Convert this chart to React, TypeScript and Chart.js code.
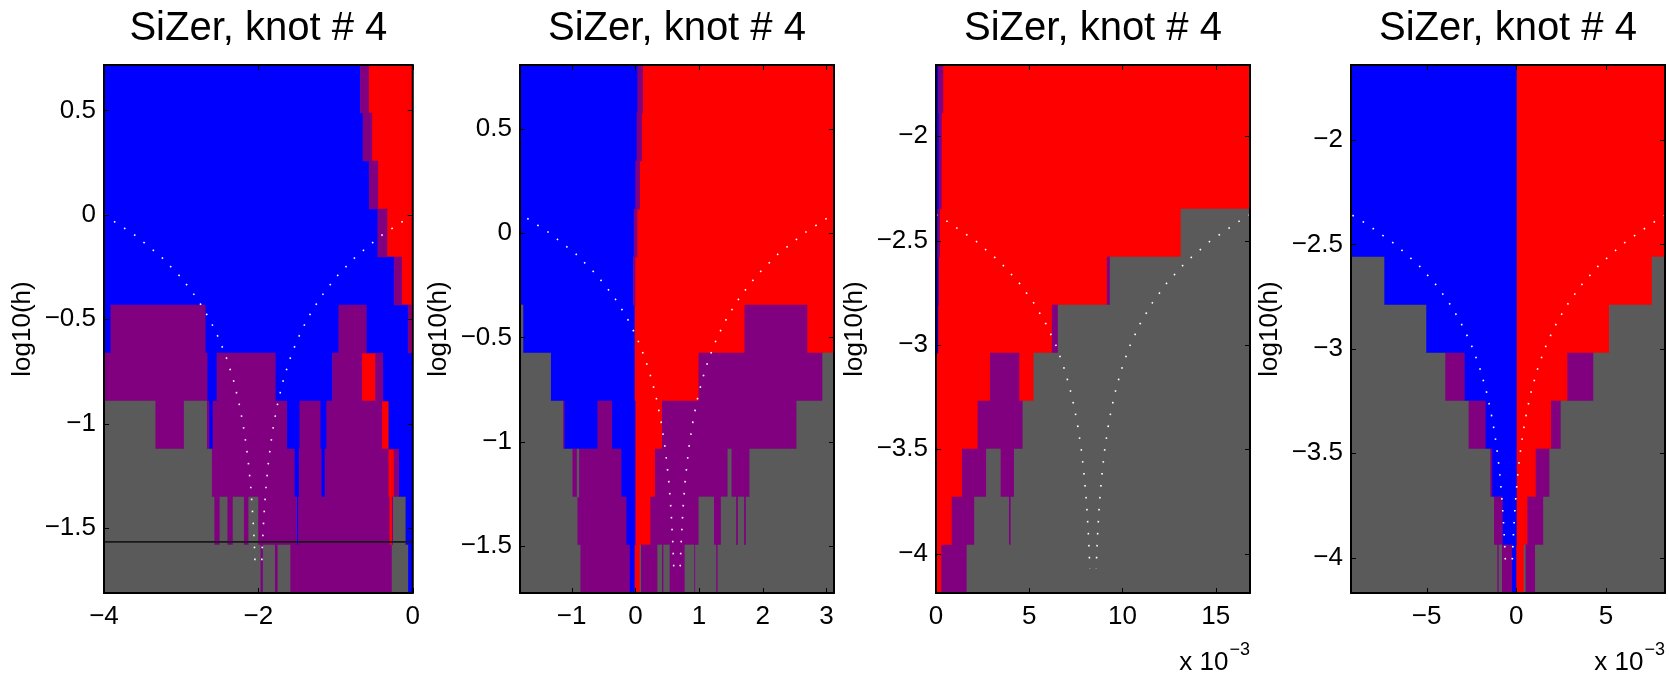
import React, { useEffect, useRef } from "react";
import { Chart, registerables } from "chart.js";

Chart.register(...registerables);

const FONT = "'Liberation Sans', Arial, Helvetica, sans-serif";
const COLORS: Record<string, string> = { B: "#0000ff", R: "#ff0000", P: "#800080", G: "#5a5a5a" };

// ---------- shared text ----------
const panelTitle = "SiZer, knot # 4";
const yAxisTitle = "log10(h)";

// ---------- panel 1 ----------
const p1XRange = [-4, 0];
const p1YRange = [-1.812, 0.718];
const p1LogH = [-1.697, -1.467, -1.237, -1.007, -0.777, -0.547, -0.317, -0.087, 0.143, 0.373, 0.603];
// each row (bottom → top): [colour, end of run]
const p1Rows: [string, number][][] = [
  [["G", -1.976], ["P", -1.938], ["G", -1.79], ["P", -1.747], ["G", -1.59], ["P", -0.268], ["G", -0.064], ["B", 0]],
  [["G", -2.574], ["P", -2.498], ["G", -2.405], ["P", -2.328], ["G", -2.193], ["P", -2.125], ["G", -2.006], ["P", -1.505], ["B", -1.48], ["P", -0.306], ["R", -0.265], ["P", -0.25], ["G", -0.097], ["B", 0]],
  [["G", -2.608], ["P", -1.535], ["B", -1.471], ["P", -1.187], ["B", -1.136], ["P", -0.318], ["R", -0.242], ["P", -0.182], ["B", 0]],
  [["G", -3.338], ["P", -2.961], ["G", -2.672], ["P", -2.64], ["B", -2.587], ["P", -1.633], ["B", -1.463], ["P", -1.2], ["B", -1.115], ["P", -0.402], ["R", -0.309], ["B", 0]],
  [["P", -2.664], ["B", -2.536], ["P", -1.781], ["B", -1.039], ["P", -0.661], ["R", -0.483], ["P", -0.389], ["B", 0]],
  [["B", -3.911], ["P", -2.689], ["B", -0.958], ["P", -0.602], ["B", -0.059], ["P", -0.02], ["R", 0]],
  [["B", -0.241], ["P", -0.143], ["R", 0]],
  [["B", -0.453], ["P", -0.334], ["R", 0]],
  [["B", -0.563], ["P", -0.453], ["R", 0]],
  [["B", -0.644], ["P", -0.53], ["R", 0]],
  [["B", -0.678], ["P", -0.572], ["R", 0]],
];
const p1CurveCenter = -2.0;
const p1CurveLogH = [0, -0.1, -0.2, -0.3, -0.4, -0.5, -0.6, -0.7, -0.8, -0.9, -1.0, -1.1, -1.2, -1.3, -1.4, -1.5, -1.6, -1.697];
const p1CurveHalf = [2, 1.589, 1.262, 1.002, 0.796, 0.632, 0.502, 0.399, 0.317, 0.252, 0.2, 0.159, 0.126, 0.1, 0.08, 0.063, 0.05, 0.04];
const p1HLine = [-1.567];

// ---------- panel 2 ----------
const p2XRange = [-1.811, 3.118];
const p2YRange = [-1.725, 0.805];
const p2LogH = [-1.61, -1.38, -1.15, -0.92, -0.69, -0.46, -0.23, 0, 0.23, 0.46, 0.69];
const p2Rows: [string, number][][] = [
  [["G", -0.867], ["P", -0.094], ["B", -0.016], ["R", 0.073], ["G", 0.083], ["P", 0.35], ["G", 0.413], ["P", 0.444], ["G", 0.533], ["P", 0.778], ["G", 0.919], ["P", 0.945], ["G", 1.264], ["P", 1.295], ["G", 3.118]],
  [["G", -0.914], ["P", -0.146], ["B", -0.005], ["R", 0.24], ["P", 0.997], ["G", 1.227], ["P", 1.347], ["G", 1.577], ["P", 1.614], ["G", 1.702], ["P", 1.739], ["G", 3.118]],
  [["G", -0.992], ["P", -0.914], ["G", -0.888], ["P", -0.225], ["B", -0.005], ["R", 0.313], ["P", 1.452], ["G", 1.504], ["P", 1.796], ["G", 3.118]],
  [["G", -1.138], ["P", -1.117], ["B", -0.59], ["P", -0.371], ["B", -0.005], ["R", 0.423], ["P", 2.533], ["G", 3.118]],
  [["G", -1.332], ["B", -0.016], ["R", 0.997], ["P", 2.94], ["G", 3.118]],
  [["G", -1.765], ["B", -0.016], ["R", 1.718], ["P", 2.694], ["R", 3.118]],
  [["B", -0.03], ["P", -0.005], ["R", 3.118]],
  [["B", -0.02], ["P", 0.026], ["R", 3.118]],
  [["B", 0.005], ["P", 0.068], ["R", 3.118]],
  [["B", 0.026], ["P", 0.1], ["R", 3.118]],
  [["B", 0.037], ["P", 0.115], ["R", 3.118]],
];
const p2CurveCenter = 0.653;
const p2CurveLogH = [0.07, 0, -0.1, -0.2, -0.3, -0.4, -0.5, -0.6, -0.7, -0.8, -0.9, -1.0, -1.1, -1.2, -1.3, -1.4, -1.5, -1.61];
const p2CurveHalf = [2.35, 2, 1.589, 1.262, 1.002, 0.796, 0.632, 0.502, 0.399, 0.317, 0.252, 0.2, 0.159, 0.126, 0.1, 0.08, 0.063, 0.049];

// ---------- panel 3 (x in units of 1e-3) ----------
const p3XRange = [0, 16.84];
const p3YRange = [-4.189, -1.659];
const p3LogH = [-4.074, -3.844, -3.614, -3.384, -3.154, -2.924, -2.694, -2.464, -2.234, -2.004, -1.774];
const p3Rows: [string, number][][] = [
  [["R", 0.3], ["P", 1.66], ["G", 16.84]],
  [["R", 0.86], ["P", 2.07], ["G", 3.89], ["P", 4.02], ["G", 16.84]],
  [["R", 1.41], ["P", 2.71], ["G", 3.45], ["P", 4.2], ["G", 16.84]],
  [["R", 2.25], ["P", 4.66], ["G", 16.84]],
  [["R", 2.91], ["P", 4.45], ["R", 5.25], ["G", 16.84]],
  [["B", 0.1], ["R", 6.23], ["P", 6.55], ["G", 16.84]],
  [["B", 0.12], ["R", 9.18], ["P", 9.34], ["G", 16.84]],
  [["B", 0.1], ["P", 0.2], ["R", 13.14], ["G", 16.84]],
  [["B", 0.16], ["P", 0.29], ["R", 16.84]],
  [["B", 0.16], ["P", 0.3], ["R", 16.84]],
  [["B", 0.14], ["P", 0.375], ["R", 16.84]],
];
const p3CurveCenter = 8.42;
const p3CurveLogH = [-2.376, -2.4, -2.5, -2.6, -2.7, -2.8, -2.9, -3.0, -3.1, -3.2, -3.3, -3.4, -3.5, -3.6, -3.7, -3.8, -3.9, -4.0, -4.074];
const p3CurveHalf = [8.42, 7.96, 6.32, 5.02, 3.99, 3.17, 2.52, 2.0, 1.589, 1.262, 1.002, 0.796, 0.632, 0.502, 0.399, 0.317, 0.252, 0.2, 0.169];

// ---------- panel 4 (x in units of 1e-3) ----------
const p4XRange = [-9.22, 8.29];
const p4YRange = [-4.17, -1.64];
const p4LogH = [-4.055, -3.825, -3.595, -3.365, -3.135, -2.905, -2.675, -2.445, -2.215, -1.985, -1.755];
const p4Rows: [string, number][][] = [
  [["G", -1.078], ["P", -0.967], ["G", -0.818], ["P", -0.26], ["B", -0.02], ["R", 0.43], ["G", 0.5], ["P", 1.06], ["G", 8.29]],
  [["G", -1.26], ["P", -0.78], ["B", 0], ["R", 0.63], ["P", 1.52], ["G", 8.29]],
  [["G", -1.47], ["P", -1.36], ["B", 0], ["R", 1.1], ["P", 1.86], ["G", 8.29]],
  [["G", -2.68], ["P", -1.73], ["B", 0], ["R", 1.95], ["P", 2.49], ["G", 8.29]],
  [["G", -3.98], ["P", -2.9], ["B", 0], ["R", 2.86], ["P", 4.31], ["G", 8.29]],
  [["G", -5.04], ["B", 0], ["R", 5.19], ["G", 8.29]],
  [["G", -7.38], ["B", 0], ["R", 7.57], ["G", 8.29]],
  [["B", 0], ["R", 8.29]],
  [["B", 0], ["R", 8.29]],
  [["B", 0], ["R", 8.29]],
  [["B", 0], ["R", 8.29]],
];
const p4CurveCenter = -0.42;
const p4CurveLogH = [-2.36, -2.4, -2.5, -2.6, -2.7, -2.8, -2.9, -3.0, -3.1, -3.2, -3.3, -3.4, -3.5, -3.6, -3.7, -3.8, -3.9, -4.0, -4.055];
const p4CurveHalf = [8.72, 7.96, 6.32, 5.02, 3.99, 3.17, 2.52, 2.0, 1.589, 1.262, 1.002, 0.796, 0.632, 0.502, 0.399, 0.317, 0.252, 0.2, 0.176];

const xStep = [2, 1, 5, 5];
const exponentLabel = [null, null, "\u22123", "\u22123"];

interface PanelSpec {
  xRange: number[];
  yRange: number[];
  logH: number[];
  rows: [string, number][][];
  center: number;
  curveLogH: number[];
  curveHalf: number[];
  hLines: number[];
  step: number;
  exponent: string | null;
}

const PANELS: PanelSpec[] = [
  { xRange: p1XRange, yRange: p1YRange, logH: p1LogH, rows: p1Rows, center: p1CurveCenter, curveLogH: p1CurveLogH, curveHalf: p1CurveHalf, hLines: p1HLine, step: xStep[0], exponent: exponentLabel[0] },
  { xRange: p2XRange, yRange: p2YRange, logH: p2LogH, rows: p2Rows, center: p2CurveCenter, curveLogH: p2CurveLogH, curveHalf: p2CurveHalf, hLines: [], step: xStep[1], exponent: exponentLabel[1] },
  { xRange: p3XRange, yRange: p3YRange, logH: p3LogH, rows: p3Rows, center: p3CurveCenter, curveLogH: p3CurveLogH, curveHalf: p3CurveHalf, hLines: [], step: xStep[2], exponent: exponentLabel[2] },
  { xRange: p4XRange, yRange: p4YRange, logH: p4LogH, rows: p4Rows, center: p4CurveCenter, curveLogH: p4CurveLogH, curveHalf: p4CurveHalf, hLines: [], step: xStep[3], exponent: exponentLabel[3] },
];

// layout (pixels)
const CANVAS_LEFT = [0, 416, 832, 1247];
const AXIS_W = 104;
const PLOT_W = 314;
const PAD_R = [10, 10, 10, 4];
const H = 678;

const fmt = (v: number) => {
  const s = String(Math.round(v * 1000) / 1000);
  return s.replace("-", "\u2212");
};

const framePlugin = {
  id: "matlabFrame",
  afterDraw(chart: any, _args: any, opts: any) {
    const { ctx, chartArea: a, scales } = chart;
    ctx.save();
    ctx.strokeStyle = "#000";
    ctx.lineWidth = 1;
    const tl = 5;
    ctx.beginPath();
    scales.x.ticks.forEach((t: any) => {
      const px = Math.round(scales.x.getPixelForValue(t.value)) + 0.5;
      ctx.moveTo(px, a.bottom);
      ctx.lineTo(px, a.bottom - tl);
      ctx.moveTo(px, a.top);
      ctx.lineTo(px, a.top + tl);
    });
    scales.y.ticks.forEach((t: any) => {
      const py = Math.round(scales.y.getPixelForValue(t.value)) + 0.5;
      ctx.moveTo(a.left, py);
      ctx.lineTo(a.left + tl, py);
      ctx.moveTo(a.right, py);
      ctx.lineTo(a.right - tl, py);
    });
    ctx.stroke();
    ctx.lineWidth = 2;
    ctx.strokeRect(a.left, a.top, a.right - a.left, a.bottom - a.top);
    if (opts && opts.exponent) {
      ctx.fillStyle = "#000";
      ctx.textAlign = "right";
      ctx.textBaseline = "alphabetic";
      ctx.font = `18px ${FONT}`;
      const w = ctx.measureText(opts.exponent).width;
      ctx.fillText(opts.exponent, a.right, a.bottom + 62);
      ctx.font = `26px ${FONT}`;
      ctx.fillText("x 10", a.right - w - 1, a.bottom + 77);
    }
    ctx.restore();
  },
};

function buildDatasets(p: PanelSpec) {
  const byColor: Record<string, any[]> = { G: [], P: [], B: [], R: [] };
  p.rows.forEach((row, i) => {
    let start = p.xRange[0];
    row.forEach(([c, end]) => {
      byColor[c].push({ x: [start, end], y: p.logH[i] });
      start = end;
    });
  });
  const bars = Object.keys(byColor).map((c) => ({
    type: "bar",
    data: byColor[c],
    backgroundColor: COLORS[c],
    borderWidth: 0,
    grouped: false,
    categoryPercentage: 1,
    barPercentage: 1,
    order: 2,
  }));
  const left = p.curveLogH.map((y, i) => ({ x: p.center - p.curveHalf[i], y }));
  const right = p.curveLogH.map((y, i) => ({ x: p.center + p.curveHalf[i], y }));
  const curve = (data: any[]) => ({
    type: "line",
    data,
    borderColor: "#ffffff",
    borderWidth: 1.6,
    borderDash: [1.6, 10.4],
    borderCapStyle: "butt",
    pointRadius: 0,
    fill: false,
    tension: 0,
    order: 0,
  });
  const lines = p.hLines.map((y) => ({
    type: "line",
    data: [
      { x: p.xRange[0], y },
      { x: p.xRange[1], y },
    ],
    borderColor: "#1a1a1a",
    borderWidth: 1.6,
    pointRadius: 0,
    fill: false,
    order: 0,
  }));
  return [...bars, curve(left), curve(right), ...lines];
}

function Panel({ idx }: { idx: number }) {
  const ref = useRef<HTMLCanvasElement | null>(null);
  const p = PANELS[idx];
  const width = AXIS_W + PLOT_W + PAD_R[idx];
  useEffect(() => {
    if (!ref.current) return;
    const chart = new Chart(ref.current, {
      type: "bar",
      data: { datasets: buildDatasets(p) as any },
      options: {
        indexAxis: "y",
        animation: false,
        responsive: false,
        maintainAspectRatio: false,
        events: [],
        layout: { padding: { left: 0, right: PAD_R[idx], top: 0, bottom: 0 } },
        plugins: {
          legend: { display: false },
          tooltip: { enabled: false },
          title: {
            display: true,
            text: panelTitle,
            fullSize: false,
            color: "#000",
            font: { family: FONT, size: 40, weight: "normal", lineHeight: 1.2 },
            padding: { top: 5, bottom: 12 },
          },
          matlabFrame: { exponent: p.exponent },
        } as any,
        scales: {
          x: {
            type: "linear",
            min: p.xRange[0],
            max: p.xRange[1],
            offset: false,
            grid: { display: false, drawTicks: false },
            border: { display: false },
            ticks: {
              stepSize: p.step,
              includeBounds: false,
              autoSkip: false,
              maxRotation: 0,
              color: "#000",
              padding: 8,
              font: { family: FONT, size: 26 },
              callback: (v: any) => fmt(Number(v)),
            },
            afterFit: (s: any) => {
              s.height = 85;
            },
          },
          y: {
            type: "linear",
            min: p.yRange[0],
            max: p.yRange[1],
            offset: false,
            grid: { display: false, drawTicks: false },
            border: { display: false },
            ticks: {
              stepSize: 0.5,
              includeBounds: false,
              autoSkip: false,
              color: "#000",
              padding: 8,
              font: { family: FONT, size: 26 },
              callback: (v: any) => fmt(Number(v)),
            },
            title: {
              display: true,
              text: yAxisTitle,
              color: "#000",
              font: { family: FONT, size: 26, lineHeight: 1.2 },
              padding: { top: 7, bottom: 0 },
            },
            afterFit: (s: any) => {
              s.width = AXIS_W;
            },
          },
        },
      } as any,
      plugins: [framePlugin],
    });
    return () => chart.destroy();
  }, []);
  return (
    <canvas
      ref={ref}
      width={width}
      height={H}
      style={{ position: "absolute", left: CANVAS_LEFT[idx], top: 0, width, height: H }}
    />
  );
}

export default function App() {
  return (
    <div
      style={{
        position: "absolute",
        left: 0,
        top: 0,
        width: 1669,
        height: H,
        overflow: "hidden",
        background: "#fff",
      }}
    >
      {PANELS.map((_, i) => (
        <Panel key={i} idx={i} />
      ))}
    </div>
  );
}
